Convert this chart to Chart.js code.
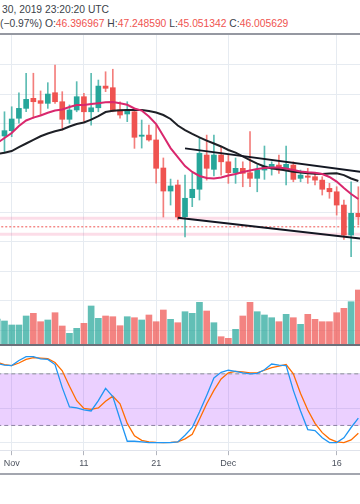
<!DOCTYPE html>
<html>
<head>
<meta charset="utf-8">
<script src="https://cdn.jsdelivr.net/npm/chart.js@4.4.0/dist/chart.umd.min.js"></script>
<style>
  body { margin: 0; background: #fff; }
  #wrap { position: relative; width: 360px; height: 504px; overflow: hidden; background: #fff; }
  .hdr { position: absolute; left: 0; white-space: nowrap; font: 10.3px "Liberation Sans", Arial, sans-serif; line-height: 14px; color: #3b3f4a; }
  .hdr .v { color: #ef5350; }
  .rule { position: absolute; left: 0; width: 360px; }
  canvas { position: absolute; left: 0; }
</style>
</head>
<body>
<div id="wrap">
  <div class="hdr" style="top:3px;left:2px">30, 2019 23:20:20 UTC</div>
  <div class="hdr" style="top:17px">(−0.97%) O:<span class="v">46.396967</span> H:<span class="v">47.248590</span> L:<span class="v">45.051342</span> C:<span class="v">46.005629</span></div>
  <div class="rule" style="top:33px;height:2px;background:#9598a1"></div>
  <canvas id="price" width="360" height="310" style="top:35px"></canvas>
  <div class="rule" style="top:344px;height:2px;background:#6d707a"></div>
  <canvas id="stoch" width="360" height="126" style="top:346px"></canvas>
  <div class="rule" style="top:473px;height:2px;background:#a3a6af"></div>
</div>
<script>
// daily candles, day 0 = Nov 1 (first candle is Oct 30)
const firstDay = -2;

const open = [51.90, 52.16, 52.52, 53.36, 54.03, 54.71, 54.55, 54.37, 55.09, 54.48,
  53.29, 53.92, 54.82, 53.80, 54.07, 55.54, 55.43, 53.92, 53.65, 53.80,
  52.14, 52.22, 51.89, 49.99, 48.43, 48.84, 46.69, 47.98, 48.55, 50.87,
  49.90, 50.87, 50.41, 49.67, 49.97, 49.67, 49.29, 49.85, 50.04, 50.19,
  49.85, 50.19, 49.29, 49.45, 49.40, 49.17, 48.61, 48.38, 47.48, 45.45, 46.92];
const high = [52.80, 53.80, 54.14, 55.09, 56.41, 56.41, 55.21, 55.77, 56.97, 55.16,
  54.26, 55.84, 55.05, 56.41, 55.95, 56.51, 56.68, 54.48, 54.48, 53.92,
  53.24, 52.90, 52.90, 50.67, 49.24, 49.17, 49.51, 49.65, 52.00, 52.22,
  52.22, 51.43, 50.87, 50.67, 50.41, 52.45, 50.19, 51.48, 50.41, 50.87,
  51.48, 50.41, 49.85, 49.97, 49.63, 49.40, 48.95, 48.72, 47.82, 49.06, 48.72];
const low = [51.50, 51.09, 52.11, 53.02, 53.80, 53.36, 53.58, 54.03, 54.37, 52.56,
  53.02, 53.80, 53.06, 52.90, 53.80, 55.16, 53.80, 53.36, 53.13, 51.32,
  51.34, 51.80, 48.97, 46.67, 47.48, 46.47, 45.33, 47.37, 47.82, 49.17,
  49.45, 49.51, 48.95, 48.95, 48.72, 48.72, 48.38, 49.22, 49.51, 49.63,
  48.84, 49.06, 49.06, 48.95, 48.84, 48.16, 47.94, 46.80, 45.16, 43.98, 46.13];
const close = [52.20, 52.52, 53.31, 54.03, 54.64, 54.48, 54.37, 55.00, 54.48, 53.29,
  53.92, 54.82, 53.80, 54.07, 55.54, 55.39, 53.85, 53.58, 53.92, 52.07,
  52.22, 51.89, 49.97, 48.43, 48.77, 46.67, 47.94, 48.55, 50.99, 49.97,
  50.87, 50.41, 49.67, 49.97, 49.63, 49.29, 49.85, 50.12, 50.24, 49.85,
  50.24, 49.22, 49.51, 49.36, 49.17, 48.55, 48.38, 47.48, 45.45, 46.92, 46.69];
const volume = [260, 240, 200, 200, 290, 317, 233, 250, 323, 190,
  117, 167, 217, 390, 267, 290, 283, 193, 283, 273,
  250, 300, 233, 350, 257, 223, 333, 317, 427, 340,
  223, 83, 67, 157, 290, 427, 333, 300, 273, 233,
  307, 273, 207, 307, 257, 233, 233, 323, 367, 433, 550];
const maFast = [51.68, 52.02, 52.36, 52.83, 53.21, 53.40, 53.55, 53.73, 53.88, 53.95,
  54.12, 54.26, 54.26, 54.33, 54.38, 54.44, 54.46, 54.37, 54.27, 54.02,
  53.88, 53.48, 52.97, 52.16, 51.34, 50.73, 50.12, 49.72, 49.45, 49.31,
  49.28, 49.35, 49.48, 49.58, 49.72, 49.82, 49.92, 49.99, 50.02, 50.02,
  49.95, 49.85, 49.75, 49.70, 49.67, 49.58, 49.38, 49.07, 48.63, 48.23, 47.89];
const maSlow = [50.94, 51.02, 51.14, 51.40, 51.65, 51.89, 52.14, 52.33, 52.48, 52.60,
  52.80, 52.97, 53.07, 53.27, 53.51, 53.78, 53.87, 53.90, 53.92, 53.92,
  53.92, 53.85, 53.75, 53.58, 53.31, 52.87, 52.56, 52.30, 52.06, 51.85,
  51.65, 51.45, 51.21, 51.03, 50.78, 50.53, 50.29, 50.09, 49.96, 49.91,
  49.82, 49.74, 49.68, 49.63, 49.60, 49.58, 49.61, 49.63, 49.51, 49.28, 49.11];
const stochK = [92, 90.2, 89.6, 95.6, 100, 100, 97.5, 96.8, 90.8, 64,
  41.6, 40.4, 38, 36.8, 48.8, 63.2, 53.6, 27.2, 1.6, 1.6,
  0.8, 0, 0, 0, 0, 0.8, 8.6, 17.6, 35.6, 54.8,
  75.2, 81.8, 84.2, 83, 81.2, 80, 80.6, 84.8, 91.4, 90.2,
  89.6, 60.8, 36.8, 15.2, 14, 5.6, 0, 0, 5.6, 17.6, 28.4];
const stochD = [93.2, 90.8, 89.6, 92.6, 96.8, 98.8, 98.2, 97.6, 93.2, 83.6,
  65.6, 48.8, 39.8, 38.8, 40.4, 48.2, 54, 45.2, 22.4, 8,
  2.6, 0.8, 0.2, 0, 0.2, 0.8, 4.4, 9.8, 27.2, 45.2,
  60.8, 74, 81.2, 82.8, 82.4, 81.2, 81.2, 84.2, 87.2, 89,
  90.8, 80, 57.2, 38, 22.4, 11.6, 4.4, 0.8, 0, 3.2, 11];

// drawings: [day, price]
const trendUpper = [[24, 51.32], [50, 49.62]];
const trendLower = [[23, 46.62], [50, 45.12]];
const levels = [46.58, 45.50];
const lastClose = 46.005629;

const tickDays = [0, 10, 20, 30, 45];
const tickLabels = ['Nov', '11', '21', 'Dec', '16'];
const priceGrid = [39, 41, 43, 45, 47, 49, 51, 53, 55, 57];
const stochGrid = [0, 40, 80];
const stochBands = [80, 20];

Chart.defaults.font.family = '"Liberation Sans", Arial, sans-serif';

const UP = '#26a69a', DOWN = '#ef5350';
const gridColor = '#e6ebf1';
const xMin = -1.62, xMax = 48.23;
const days = open.map((_, i) => firstDay + i);
const lastDay = days[days.length - 1] + 2;
const isUp = open.map((o, i) => close[i] >= o);
const pts = arr => arr.map(([x, y]) => ({ x, y }));
const flat = v => [{ x: days[0], y: v }, { x: lastDay, y: v }];

function timeAxis(showLabels) {
    return {
        type: 'linear', min: xMin, max: xMax, bounds: 'data', offset: false,
        afterBuildTicks: s => { s.ticks = tickDays.map(v => ({ value: v })); },
        grid: { color: gridColor, offset: false, drawTicks: showLabels, tickLength: 5, tickColor: '#b2b5be' },
        border: { display: showLabels, color: '#e0e3eb' },
        ticks: {
            display: showLabels, padding: 3, color: '#4c525e', font: { size: 9 },
            maxRotation: 0, autoSkip: false,
            callback: v => tickLabels[tickDays.indexOf(v)] ?? ''
        }
    };
}

const common = {
    responsive: false,
    animation: false,
    events: [],
    layout: { padding: 0, autoPadding: false },
    plugins: { legend: { display: false }, tooltip: { enabled: false } }
};

// precio + volumen
new Chart(document.getElementById('price'), {
    type: 'bar',
    data: {
        datasets: [
            { type: 'line', data: pts(trendUpper), yAxisID: 'y', borderColor: '#131722', borderWidth: 2, pointRadius: 0, order: 1 },
            { type: 'line', data: pts(trendLower), yAxisID: 'y', borderColor: '#131722', borderWidth: 2, pointRadius: 0, order: 1 },
            { type: 'line', data: days.map((d, i) => ({ x: d, y: maFast[i] })), yAxisID: 'y', borderColor: '#d9276d', borderWidth: 2, pointRadius: 0, order: 2 },
            { type: 'line', data: days.map((d, i) => ({ x: d, y: maSlow[i] })), yAxisID: 'y', borderColor: '#1e2026', borderWidth: 2, pointRadius: 0, order: 3 },
            {
                data: days.map((d, i) => ({ x: d, y: [open[i], close[i]] })), yAxisID: 'y',
                backgroundColor: isUp.map(u => u ? UP : DOWN),
                barThickness: 5, maxBarThickness: 5, minBarLength: 1, grouped: false, order: 4
            },
            {
                data: days.map((d, i) => ({ x: d, y: [low[i], high[i]] })), yAxisID: 'y',
                backgroundColor: isUp.map(u => u ? 'rgba(38,166,154,0.75)' : 'rgba(239,83,80,0.75)'),
                barThickness: 1, maxBarThickness: 1, grouped: false, order: 5
            },
            { type: 'line', data: flat(lastClose), yAxisID: 'y', borderColor: '#ef5350', borderWidth: 1, borderDash: [2, 2], pointRadius: 0, order: 6 },
            ...levels.map(v => ({ type: 'line', data: flat(v), yAxisID: 'y', borderColor: 'rgba(233,30,99,0.15)', borderWidth: 3, pointRadius: 0, order: 7 })),
            {
                data: days.map((d, i) => ({ x: d, y: volume[i] })), yAxisID: 'yv',
                backgroundColor: isUp.map(u => u ? 'rgba(38,166,154,0.72)' : 'rgba(239,83,80,0.72)'),
                barThickness: 6, maxBarThickness: 6, grouped: false, order: 8
            }
        ]
    },
    options: {
        ...common,
        scales: {
            x: timeAxis(false),
            y: {
                min: 38, max: 59,
                afterBuildTicks: s => { s.ticks = priceGrid.map(v => ({ value: v })); },
                grid: { color: gridColor, drawTicks: false },
                border: { display: false },
                ticks: { display: false }
            },
            yv: { display: false, min: 0, max: 3100 }
        }
    }
});

// estocástico
new Chart(document.getElementById('stoch'), {
    type: 'line',
    data: {
        datasets: [
            { data: days.map((d, i) => ({ x: d, y: stochK[i] })), borderColor: '#2196f3', borderWidth: 1.3, pointRadius: 0, order: 1 },
            { data: days.map((d, i) => ({ x: d, y: stochD[i] })), borderColor: '#ff6d00', borderWidth: 1.3, pointRadius: 0, order: 2 },
            {
                data: flat(stochBands[0]), borderColor: '#8b8e97', borderWidth: 1, borderDash: [4, 3], pointRadius: 0,
                fill: '+1', backgroundColor: 'rgba(153,21,255,0.2)', order: 3
            },
            { data: flat(stochBands[1]), borderColor: '#8b8e97', borderWidth: 1, borderDash: [4, 3], pointRadius: 0, fill: false, order: 4 }
        ]
    },
    options: {
        ...common,
        scales: {
            x: timeAxis(true),
            y: {
                min: -8.8, max: 112.4,
                afterBuildTicks: s => { s.ticks = stochGrid.map(v => ({ value: v })); },
                grid: { color: gridColor, drawTicks: false },
                border: { display: false },
                ticks: { display: false }
            }
        }
    }
});
</script>
</body>
</html>
